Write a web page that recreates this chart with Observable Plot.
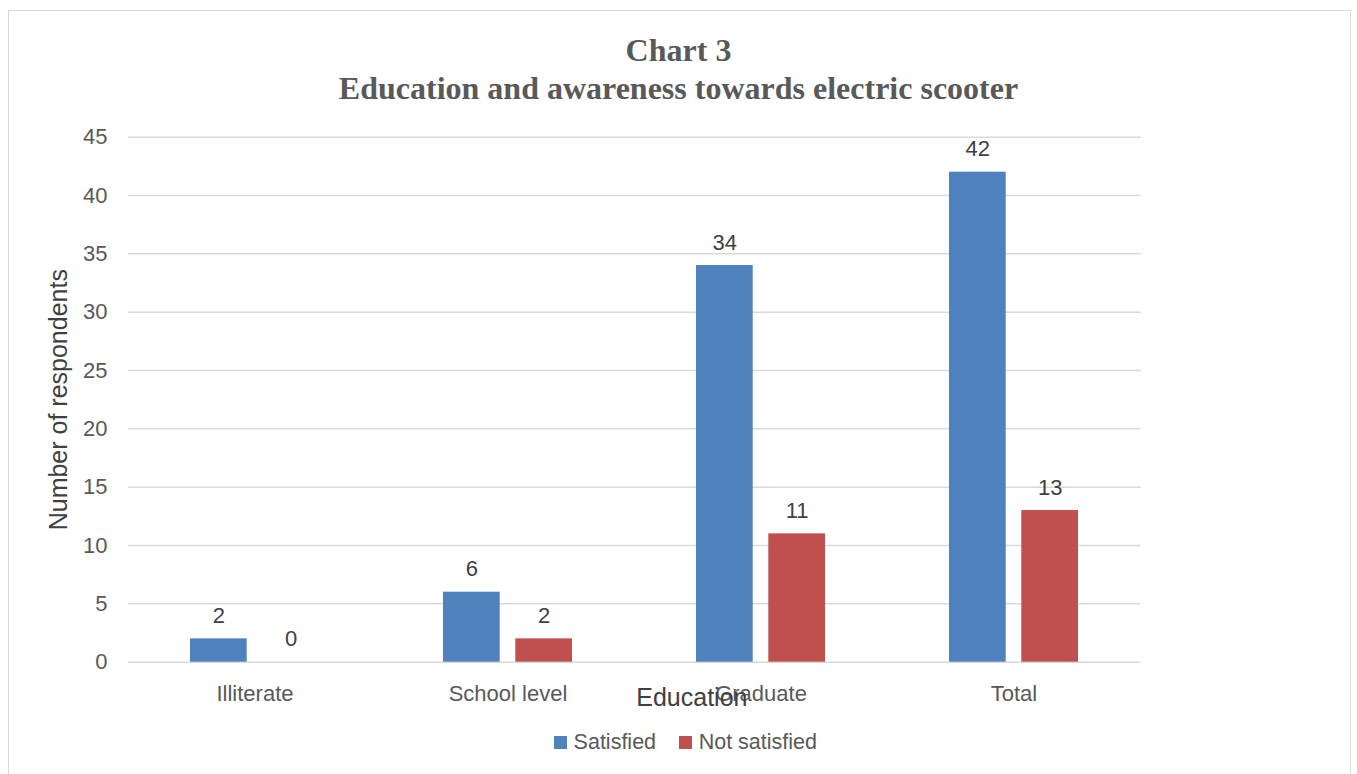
<!DOCTYPE html>
<html>
<head>
<meta charset="utf-8">
<script src="https://cdn.jsdelivr.net/npm/d3@7"></script>
<script src="https://cdn.jsdelivr.net/npm/@observablehq/plot@0.6"></script>
<style>
  body { margin: 0; background: #fff; width: 1357px; height: 774px; overflow: hidden; position: relative; font-family: "Liberation Sans", Arial, sans-serif; }
  #frame { position: absolute; left: 8px; top: 10px; width: 1343px; height: 790px; border: 1.5px solid #d9d9d9; box-sizing: border-box; pointer-events: none; }
  #title { height: 120px; box-sizing: border-box; padding-top: 31px; text-align: center; font-family: "Liberation Serif", "Times New Roman", serif; font-weight: bold; font-size: 32px; line-height: 38px; color: #595959; }
  #chart svg { display: block; }
  #legend { padding-left: 554px; margin-top: 10px; display: flex; align-items: center; font-size: 21.5px; line-height: 24px; color: #595959; }
  .sw { width: 13px; height: 13px; display: inline-block; margin-right: 6.6px; }
</style>
</head>
<body>
<div id="frame"></div>
<div id="title">Chart 3<br>Education and awareness towards electric scooter</div>
<div id="chart"></div>
<div id="legend"></div>
<script>
const categories = ["Illiterate", "School level", "Graduate", "Total"];
const satisfied = [2, 6, 34, 42];
const notSatisfied = [0, 2, 11, 13];
const seriesNames = ["Satisfied", "Not satisfied"];
const seriesColors = ["#4f81bd", "#c0504d"];
const yTicks = [0, 5, 10, 15, 20, 25, 30, 35, 40, 45];
const xTitle = "Education";
const yTitle = "Number of respondents";

const rows = categories.map((c, i) => ({category: c, satisfied: satisfied[i], notSatisfied: notSatisfied[i]}));

const chart = Plot.plot({
  width: 1357,
  height: 600,
  marginTop: 16.7,
  marginBottom: 58.3,
  marginLeft: 128,
  marginRight: 216.3,
  style: {fontFamily: "'Liberation Sans', Arial, sans-serif", fontSize: "22px", color: "#595959", background: "transparent"},
  x: {domain: categories, paddingInner: 0.49, paddingOuter: 0.245, label: null, tickSize: 0, tickPadding: 23},
  y: {domain: [0, 45], ticks: yTicks, label: null, tickSize: 0, tickPadding: 21},
  marks: [
    Plot.ruleY(yTicks, {stroke: "#d9d9d9", strokeWidth: 1.5}),
    Plot.barY(rows, {x: "category", y: "satisfied", fill: seriesColors[0], insetRight: 72.3}),
    Plot.barY(rows, {x: "category", y: "notSatisfied", fill: seriesColors[1], insetLeft: 72.3}),
    Plot.text(rows, {x: "category", y: "satisfied", text: d => String(d.satisfied), dx: -36.15, dy: -16, lineAnchor: "bottom", fill: "#404040", fontSize: 22}),
    Plot.text(rows, {x: "category", y: "notSatisfied", text: d => String(d.notSatisfied), dx: 36.15, dy: -16, lineAnchor: "bottom", fill: "#404040", fontSize: 22}),
    Plot.text([xTitle], {frameAnchor: "bottom", text: d => d, dx: 57, dy: 26, lineAnchor: "top", fontSize: 25, fill: "#404040"}),
    Plot.text([yTitle], {frameAnchor: "left", text: d => d, rotate: -90, dx: -70, textAnchor: "middle", fontSize: 25, fill: "#404040"})
  ]
});
document.getElementById("chart").appendChild(chart);

const legend = document.getElementById("legend");
seriesNames.forEach((name, i) => {
  const sw = document.createElement("span");
  sw.className = "sw";
  sw.style.background = seriesColors[i];
  if (i > 0) sw.style.marginLeft = "23px";
  const lbl = document.createElement("span");
  lbl.textContent = name;
  legend.appendChild(sw);
  legend.appendChild(lbl);
});
</script>
</body>
</html>
